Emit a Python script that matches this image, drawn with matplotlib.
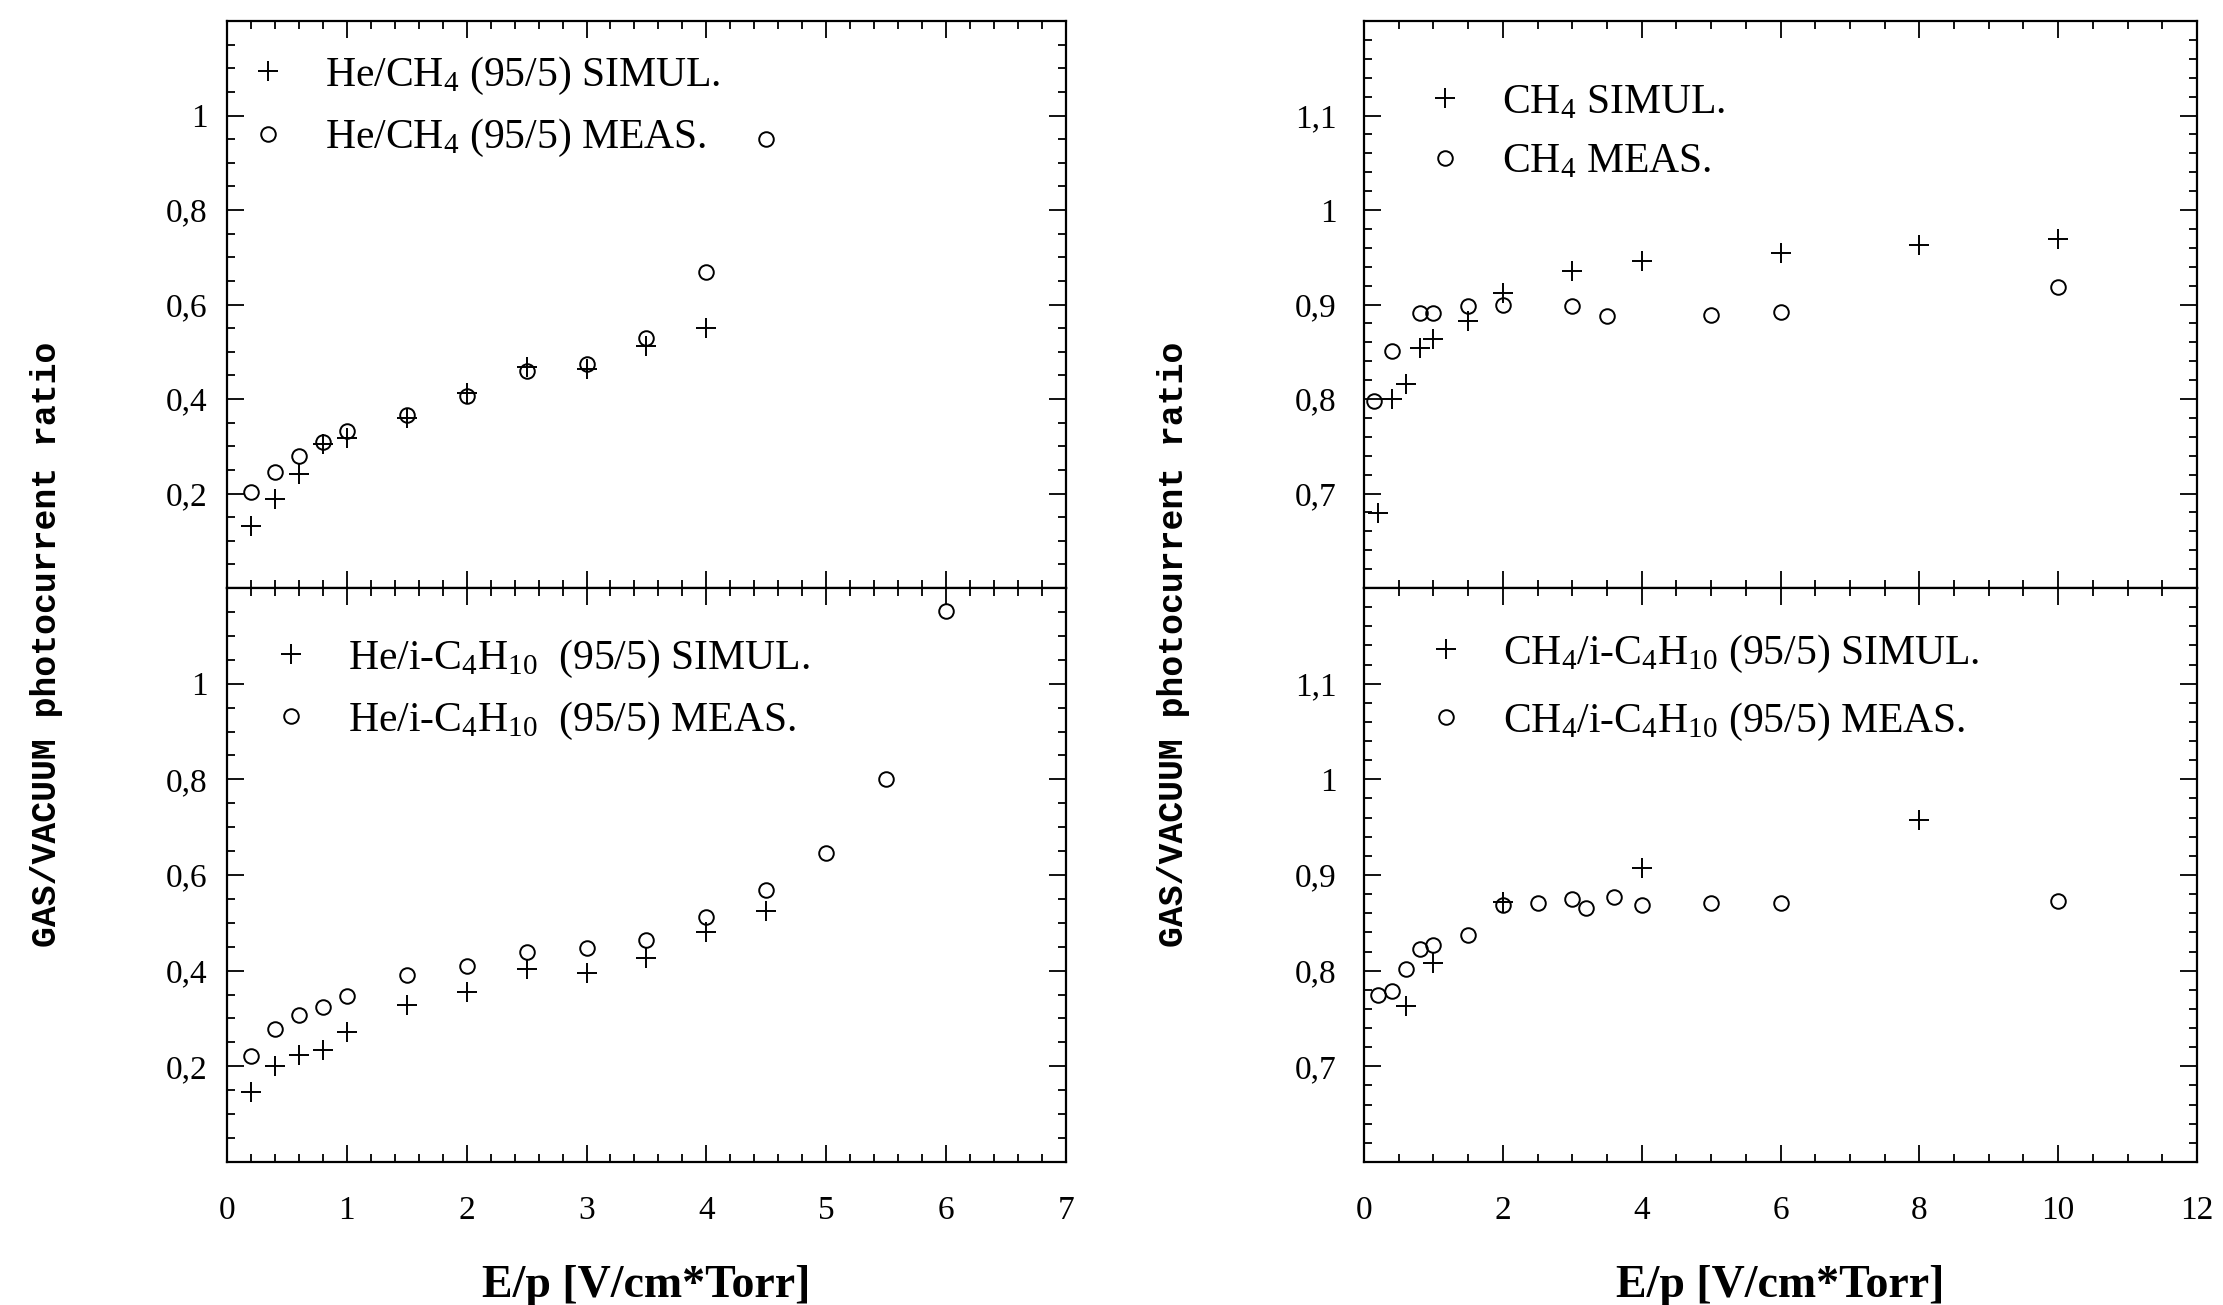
import matplotlib
matplotlib.use("Agg")
import matplotlib.pyplot as plt
from matplotlib.ticker import MultipleLocator, FixedLocator, FuncFormatter

plt.rcParams['font.family'] = ['Liberation Serif', 'DejaVu Serif']
plt.rcParams['mathtext.fontset'] = 'custom'
plt.rcParams['mathtext.rm'] = 'Liberation Serif'
plt.rcParams['mathtext.it'] = 'Liberation Serif:italic'
plt.rcParams['axes.linewidth'] = 1.6

# He/CH4 (95/5)
he_ch4_sim_x = [0.2, 0.4, 0.6, 0.8, 1.0, 1.5, 2.0, 2.5, 3.0, 3.5, 4.0]
he_ch4_sim_y = [0.132, 0.188, 0.242, 0.304, 0.318, 0.36, 0.412, 0.468, 0.464, 0.512, 0.55]
he_ch4_meas_x = [0.2, 0.4, 0.6, 0.8, 1.0, 1.5, 2.0, 2.5, 3.0, 3.5, 4.0, 4.5]
he_ch4_meas_y = [0.204, 0.246, 0.28, 0.31, 0.332, 0.366, 0.406, 0.46, 0.474, 0.53, 0.668, 0.95]

# He/i-C4H10 (95/5)
he_ic4_sim_x = [0.2, 0.4, 0.6, 0.8, 1.0, 1.5, 2.0, 2.5, 3.0, 3.5, 4.0, 4.5]
he_ic4_sim_y = [0.146, 0.2, 0.224, 0.234, 0.272, 0.328, 0.356, 0.404, 0.396, 0.426, 0.48, 0.524]
he_ic4_meas_x = [0.2, 0.4, 0.6, 0.8, 1.0, 1.5, 2.0, 2.5, 3.0, 3.5, 4.0, 4.5, 5.0, 5.5, 6.0]
he_ic4_meas_y = [0.222, 0.278, 0.308, 0.324, 0.348, 0.39, 0.41, 0.44, 0.448, 0.464, 0.512, 0.568,
                 0.646, 0.80, 1.152]

# CH4
ch4_sim_x = [0.2, 0.4, 0.6, 0.8, 1.0, 1.5, 2.0, 3.0, 4.0, 6.0, 8.0, 10.0]
ch4_sim_y = [0.679, 0.80, 0.816, 0.854, 0.863, 0.883, 0.912, 0.935, 0.946, 0.954, 0.963, 0.969]
ch4_meas_x = [0.15, 0.4, 0.8, 1.0, 1.5, 2.0, 3.0, 3.5, 5.0, 6.0, 10.0]
ch4_meas_y = [0.798, 0.851, 0.891, 0.891, 0.898, 0.90, 0.898, 0.888, 0.889, 0.892, 0.919]

# CH4/i-C4H10 (95/5)
ch4_ic4_sim_x = [0.6, 1.0, 2.0, 4.0, 8.0]
ch4_ic4_sim_y = [0.763, 0.808, 0.872, 0.907, 0.958]
ch4_ic4_meas_x = [0.2, 0.4, 0.6, 0.8, 1.0, 1.5, 2.0, 2.5, 3.0, 3.2, 3.6, 4.0, 5.0, 6.0, 10.0]
ch4_ic4_meas_y = [0.775, 0.779, 0.802, 0.823, 0.827, 0.837, 0.869, 0.871, 0.875, 0.865, 0.877,
                  0.869, 0.871, 0.871, 0.873]

left_yticks = [0.2, 0.4, 0.6, 0.8, 1.0]
right_yticks = [0.7, 0.8, 0.9, 1.0, 1.1]

labels = {
    'tl': (r'He/CH$_4$ (95/5) SIMUL.', r'He/CH$_4$ (95/5) MEAS.'),
    'bl': (r'He/i-C$_4$H$_{10}$  (95/5) SIMUL.', r'He/i-C$_4$H$_{10}$  (95/5) MEAS.'),
    'tr': (r'CH$_4$ SIMUL.', r'CH$_4$ MEAS.'),
    'br': (r'CH$_4$/i-C$_4$H$_{10}$ (95/5) SIMUL.', r'CH$_4$/i-C$_4$H$_{10}$ (95/5) MEAS.'),
}

FS = 24
LEG_FS = 30


def comma_fmt(v, pos):
    s = ('%.1f' % v).rstrip('0').rstrip('.')
    return s.replace('.', ',')


def setup(ax, xlim, xmaj, xmin, ylim, yticks, ymin, show_x, ypad):
    ax.set_xlim(*xlim)
    ax.set_ylim(*ylim)
    ax.xaxis.set_major_locator(MultipleLocator(xmaj))
    ax.xaxis.set_minor_locator(MultipleLocator(xmin))
    ax.yaxis.set_major_locator(FixedLocator(yticks))
    ax.yaxis.set_minor_locator(MultipleLocator(ymin))
    ax.yaxis.set_major_formatter(FuncFormatter(comma_fmt))
    ax.tick_params(which='both', direction='in', top=True, right=True, width=1.3)
    ax.tick_params(which='major', length=12)
    ax.tick_params(which='minor', length=6)
    ax.tick_params(axis='y', labelsize=FS, pad=ypad)
    ax.tick_params(axis='x', labelsize=FS, pad=24)
    if not show_x:
        ax.tick_params(axis='x', labelbottom=False)


def draw(ax, sx, sy, mx, my, lab, anchor, spacing):
    ax.plot(sx, sy, linestyle='none', marker='+', ms=14, mew=1.4, color='black', label=lab[0])
    ax.plot(mx, my, linestyle='none', marker='o', ms=10.5, mew=1.4, mfc='none', color='black',
            label=lab[1], clip_on=False)
    ax.legend(loc='upper left', bbox_to_anchor=anchor, frameon=False, fontsize=LEG_FS,
              handlelength=1.0, handletextpad=0.87, labelspacing=spacing,
              borderpad=0, borderaxespad=0, numpoints=1)


fig = plt.figure(figsize=(22.23, 13.05), dpi=100)

lx, rx, lw, rw = 0.1021, 0.6136, 0.3774, 0.3747
by, bh, ty, th = 0.1096, 0.4398, 0.5494, 0.4345

ax_tl = fig.add_axes([lx, ty, lw, th])
ax_bl = fig.add_axes([lx, by, lw, bh])
ax_tr = fig.add_axes([rx, ty, rw, th])
ax_br = fig.add_axes([rx, by, rw, bh])

setup(ax_tl, (0, 7), 1, 0.2, (0, 1.2), left_yticks, 0.05, False, 14)
setup(ax_bl, (0, 7), 1, 0.2, (0, 1.2), left_yticks, 0.05, True, 14)
setup(ax_tr, (0, 12), 2, 0.5, (0.6, 1.2), right_yticks, 0.02, False, 20)
setup(ax_br, (0, 12), 2, 0.5, (0.6, 1.2), right_yticks, 0.02, True, 20)

draw(ax_tl, he_ch4_sim_x, he_ch4_sim_y, he_ch4_meas_x, he_ch4_meas_y, labels['tl'],
     (0.024, 0.941), 0.5)
draw(ax_bl, he_ic4_sim_x, he_ic4_sim_y, he_ic4_meas_x, he_ic4_meas_y, labels['bl'],
     (0.0515, 0.913), 0.47)
draw(ax_tr, ch4_sim_x, ch4_sim_y, ch4_meas_x, ch4_meas_y, labels['tr'],
     (0.072, 0.89), 0.5)
draw(ax_br, ch4_ic4_sim_x, ch4_ic4_sim_y, ch4_ic4_meas_x, ch4_ic4_meas_y, labels['br'],
     (0.0735, 0.922), 0.62)

for ax in (ax_bl, ax_br):
    ax.set_xlabel('E/p [V/cm*Torr]', fontsize=33, fontweight='bold', labelpad=28)

ylab = 'GAS/VACUUM photocurrent ratio'
fig.text(0.021, 0.506, ylab, rotation=90, ha='center', va='center',
         family='Liberation Mono', fontweight='bold', fontsize=25)
fig.text(0.528, 0.506, ylab, rotation=90, ha='center', va='center',
         family='Liberation Mono', fontweight='bold', fontsize=25)

fig.savefig('out.png', dpi=100)
